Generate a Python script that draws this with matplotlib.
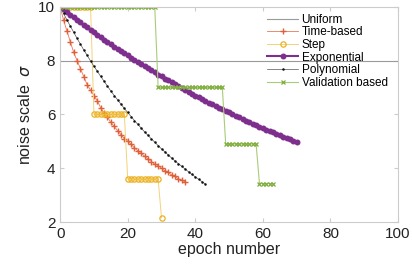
import matplotlib.pyplot as plt

# ── Data ─────────────────────────────────────────────────────
uniform_x = [0, 100]
uniform_y = [8, 8]

time_x = list(range(38))
time_y = [10.0, 9.5, 9.1, 8.7, 8.3, 8.0, 7.7, 7.4, 7.1, 6.9,
          6.7, 6.5, 6.25, 6.05, 5.9, 5.7, 5.55, 5.4, 5.25, 5.1,
          5.0, 4.9, 4.75, 4.65, 4.55, 4.45, 4.35, 4.25, 4.15, 4.1,
          4.0, 3.9, 3.85, 3.75, 3.7, 3.6, 3.55, 3.5]

step_x = list(range(31))
step_y = [10.0] * 10 + [6.0] * 10 + [3.6] * 10 + [2.16]

exp_x = list(range(71))
exp_y = [10.00, 9.90, 9.80, 9.70, 9.61, 9.51, 9.42, 9.32, 9.23, 9.14,
         9.05, 8.96, 8.87, 8.78, 8.69, 8.61, 8.52, 8.44, 8.35, 8.27,
         8.19, 8.11, 8.03, 7.95, 7.87, 7.79, 7.71, 7.63, 7.56, 7.48,
         7.41, 7.33, 7.26, 7.19, 7.12, 7.05, 6.98, 6.91, 6.84, 6.77,
         6.70, 6.64, 6.57, 6.51, 6.44, 6.38, 6.31, 6.25, 6.19, 6.13,
         6.07, 6.00, 5.95, 5.89, 5.83, 5.77, 5.71, 5.66, 5.60, 5.54,
         5.49, 5.43, 5.38, 5.33, 5.27, 5.22, 5.17, 5.12, 5.07, 5.02,
         4.97]

poly_x = list(range(44))
poly_y = [10.0, 9.75, 9.51, 9.28, 9.05, 8.82, 8.61, 8.39, 8.19, 7.98,
          7.79, 7.60, 7.41, 7.23, 7.05, 6.87, 6.70, 6.54, 6.38, 6.22,
          6.07, 5.92, 5.77, 5.63, 5.49, 5.35, 5.22, 5.09, 4.97, 4.84,
          4.72, 4.61, 4.49, 4.38, 4.27, 4.17, 4.07, 3.97, 3.87, 3.77,
          3.68, 3.59, 3.50, 3.41]

val_x = list(range(64))
val_y = [10.0] * 29 + [7.0] * 20 + [4.9] * 10 + [3.43] * 5

# ── Plot ─────────────────────────────────────────────────────
plt.rcParams['font.family'] = ['Liberation Sans', 'DejaVu Sans']

fig = plt.figure(figsize=(4.12, 2.66), dpi=100)
ax = fig.add_axes([0.146, 0.165, 0.82, 0.81])

ax.plot(uniform_x, uniform_y, color="#9a9a9a", lw=0.8, label="Uniform")
ax.plot(time_x, time_y, color="#e8785a", lw=0.6, marker="+", ms=5,
        mew=1.0, mec="#e0603a", label="Time-based")
ax.plot(step_x, step_y, color="#f2d27a", lw=0.7, marker="o", ms=3.8,
        mfc="none", mew=0.9, mec="#EDB120", label="Step")
ax.plot(exp_x, exp_y, color="#7E2F8E", lw=1.5, marker="o", ms=4.3,
        mew=0, label="Exponential")
ax.plot(poly_x, poly_y, color="#555555", lw=0.5, marker="o", ms=1.8,
        mew=0, mfc="#111111", label="Polynomial")
ax.plot(val_x, val_y, color="#a8cc78", lw=0.8, marker="x", ms=3,
        mew=0.9, mec="#7fae3c", label="Validation based")

ax.set_xlim(0, 100)
ax.set_ylim(2, 10)
ax.set_xticks(range(0, 101, 20))
ax.set_yticks(range(2, 11, 2))
ax.tick_params(direction="in", top=True, right=True, length=3,
               color="#cccccc", labelsize=11, labelcolor="#222222")
for s in ax.spines.values():
    s.set_color("#cccccc")
    s.set_linewidth(0.8)

ax.set_xlabel("epoch number", fontsize=11.5, color="#222222", labelpad=1)
ax.set_ylabel(r"noise scale  $\sigma$", fontsize=11.5, color="#222222", labelpad=4)

ax.legend(loc="upper right", bbox_to_anchor=(0.99, 1.0), frameon=False,
          fontsize=8.5, handlelength=2.6, labelspacing=0.05,
          handletextpad=0.3, borderaxespad=0.2)

fig.savefig("out.png", dpi=100)
